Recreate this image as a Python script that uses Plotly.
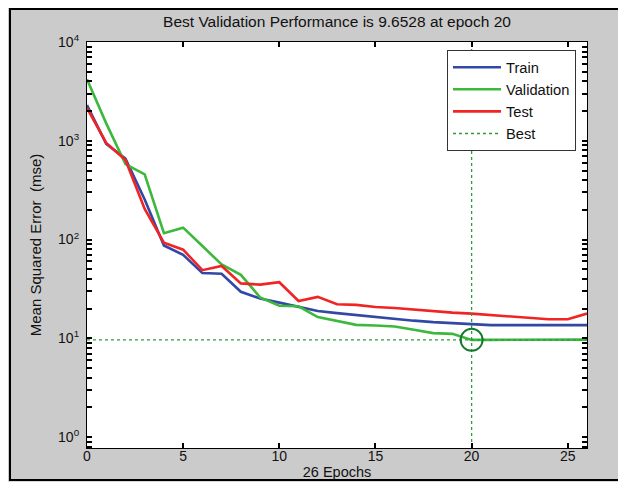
import plotly.graph_objects as go

epochs = list(range(27))
train = [2300, 930, 660, 255, 87, 70, 45.8, 45, 29.6, 25.3, 23.0, 20.8, 18.9, 18.0, 17.2, 16.4,
         15.6, 15.1, 14.6, 14.2, 13.9, 13.6, 13.6, 13.6, 13.6, 13.6, 13.6]
validation = [4200, 1500, 580, 457, 116, 132, 86, 56, 44, 26, 21.4, 21.1, 16.4, 15.1, 13.7, 13.5,
              13.2, 12.2, 11.3, 11.1, 9.6528, 9.66, 9.67, 9.68, 9.69, 9.70, 9.71]
test = [2150, 950, 640, 204, 93, 79, 49, 54, 36, 35, 37, 23.9, 26.3, 22.1, 21.8, 20.8,
        20.3, 19.5, 18.9, 18.2, 17.8, 17.2, 16.7, 16.2, 15.6, 15.6, 17.8]
best_epoch = 20
best_perf = 9.6528
n_epochs = 26
y_log_range = [-0.11, 4.0]
y_major = [1, 10, 100, 1000, 10000]
y_major_text = ["10<sup>0</sup>", "10<sup>1</sup>", "10<sup>2</sup>", "10<sup>3</sup>", "10<sup>4</sup>"]
x_major = [0, 5, 10, 15, 20, 25]

# log ticks: decades labelled, 2..9 in each decade unlabelled
y_minor = [m * 10.0 ** d for d in range(-1, 4) for m in range(2, 10)
           if 10 ** y_log_range[0] <= m * 10.0 ** d <= 10 ** y_log_range[1]]
y_ticks = sorted(y_major + y_minor)
y_ticktext = [y_major_text[y_major.index(v)] if v in y_major else "" for v in y_ticks]

blue = "#3347a6"
green = "#3cb83c"
red = "#f02424"
best_green = "#2f9a3f"
circle_green = "#157a30"
panel_gray = "#cbcbcb"

fig = go.Figure()
fig.add_trace(go.Scatter(x=epochs, y=train, mode="lines", name="Train",
                         line=dict(color=blue, width=2.6)))
fig.add_trace(go.Scatter(x=epochs, y=validation, mode="lines", name="Validation",
                         line=dict(color=green, width=2.6)))
fig.add_trace(go.Scatter(x=epochs, y=test, mode="lines", name="Test",
                         line=dict(color=red, width=2.6)))
fig.add_trace(go.Scatter(x=[0, n_epochs], y=[best_perf, best_perf], mode="lines", name="Best",
                         line=dict(color=best_green, width=1.3, dash="3px,3px")))
fig.add_trace(go.Scatter(x=[best_epoch, best_epoch],
                         y=[10 ** y_log_range[0], 10 ** y_log_range[1]], mode="lines",
                         showlegend=False, line=dict(color=best_green, width=1.3, dash="3px,3px")))
fig.add_trace(go.Scatter(x=[best_epoch], y=[best_perf], mode="markers", showlegend=False,
                         marker=dict(symbol="circle-open", size=22,
                                     line=dict(color=circle_green, width=2), color=circle_green)))

# white strips outside the panel border (right and bottom), then the black panel border
fig.add_shape(type="rect", xref="paper", yref="paper", x0=1.074, x1=1.2, y0=-0.3, y1=1.3,
              fillcolor="white", line=dict(width=0), layer="below")
fig.add_shape(type="rect", xref="paper", yref="paper", x0=-0.3, x1=1.2, y0=-0.3, y1=-0.083,
              fillcolor="white", line=dict(width=0), layer="below")
fig.add_shape(type="rect", xref="paper", yref="paper", x0=-0.154, x1=1.07, y0=-0.0788, y1=1.081,
              line=dict(color="black", width=2), layer="below")

font = "Liberation Sans, Arial, sans-serif"
W, H = 618, 476
fig.update_layout(
    width=W, height=H,
    margin=dict(l=79, r=39, t=34, b=36, autoexpand=False),
    paper_bgcolor=panel_gray, plot_bgcolor="white",
    font=dict(family=font, size=14, color="#111111"),
    title=dict(text="Best Validation Performance is 9.6528 at epoch 20", x=0.5, xref="paper",
               xanchor="center", y=1 - 14 / H, yanchor="middle",
               font=dict(family=font, size=15.5, color="#111111")),
    showlegend=True,
    legend=dict(x=0.72, y=0.98, xanchor="left", yanchor="top", bgcolor="white",
                bordercolor="#333333", borderwidth=1, font=dict(family=font, size=14.7),
                tracegroupgap=0, itemwidth=48),
    xaxis=dict(range=[0, n_epochs], tickvals=x_major, ticks="inside", ticklen=5, tickwidth=1.5,
               tickcolor="black", mirror="allticks", showline=True, linecolor="black",
               linewidth=1.2, showgrid=False, zeroline=False, automargin=False,
               ticklabelstandoff=-5,
               title=dict(text="26 Epochs", standoff=3, font=dict(size=14.5)),
               tickfont=dict(size=14)),
    yaxis=dict(type="log", range=y_log_range, tickvals=y_ticks, ticktext=y_ticktext,
               ticks="inside", ticklen=5, tickwidth=1.5, tickcolor="black", mirror="allticks",
               showline=True, linecolor="black", linewidth=1.2, showgrid=False, zeroline=False,
               automargin=False, ticklabelstandoff=4,
               title=dict(text="Mean Squared Error  (mse)", standoff=12, font=dict(size=15)),
               tickfont=dict(size=14)),
)

fig.write_html("out.html")
